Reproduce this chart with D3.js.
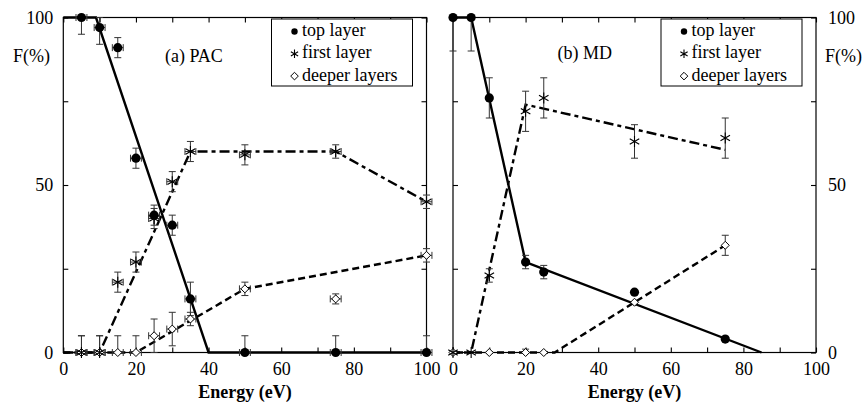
<!DOCTYPE html>
<html><head><meta charset="utf-8">
<script src="https://cdn.jsdelivr.net/npm/d3@7"></script>
</head><body style="margin:0">
<svg id="c" width="862" height="402"></svg>
<script>
// ---------- data ----------
const xTickValues = [0,10,20,30,40,50,60,70,80,90,100];
const xTickLabels = [0,20,40,60,80,100];
const yTickValues = [0,25,50,75,100];
const yTickLabels = [0,50,100];
const legendLabels = ["top layer","first layer","deeper layers"];
const panelTitles = ["(a) PAC","(b) MD"];
const xTitle = "Energy (eV)";
const yTitle = "F(%)";

// (a) PAC
const pacTopE   = [5,10,15,20,25,30,35,50,75,100];
const pacTopF   = [100,97,91,58,41,38,16,0,0,0];
const pacTopErr = [5,5,3,3,3,3,5,5,5,5];
const pacFirstE   = [5,10,15,20,25,30,35,50,75,100];
const pacFirstF   = [0,0,21,27,40,51,60,59,60,45];
const pacFirstErr = [5,5,3,3,3,3,3,3,2,2];
const pacDeepE   = [5,10,15,20,25,30,35,50,75,100];
const pacDeepF   = [0,0,0,0,5,7,10,19,16,29];
const pacDeepErr = [5,5,5,5,5,5,2,2,1.5,2];
const pacXErr = 1.5;
const pacTopFitE = [0,9,40,100],      pacTopFitF = [100,100,0,0];
const pacFirstFitE = [0,10,35,75,100], pacFirstFitF = [0,0,60,60,45];
const pacDeepFitE = [0,20,50,100],    pacDeepFitF = [0,0,19,29];

// (b) MD
const mdTopE   = [0,5,10,20,25,50,75];
const mdTopF   = [100,100,76,27,24,18,4];
const mdTopErr = [10,10,6,2,2,0,0];
const mdFirstE   = [0,5,10,20,25,50,75];
const mdFirstF   = [0,0,23,72,76,63,64];
const mdFirstErr = [0,0,2,6,6,5,6];
const mdDeepE   = [0,10,20,25,50,75];
const mdDeepF   = [0,0,0,0,15,32];
const mdDeepErr = [0,0,1,0,0,3];
const mdXErr = 0;
const mdTopFitE = [0,5,20,85],    mdTopFitF = [100,100,27,0];
const mdFirstFitE = [0,5,20,75],  mdFirstFitF = [0,0,74,60.5];
const mdDeepFitE = [0,28,75],     mdDeepFitF = [0,0,32];

// ---------- drawing ----------
const FONT = "Times New Roman";
const svg = d3.select("#c");
const yRange = [352.5, 17.5];

function asteriskPath(r){
  const c = r*Math.cos(Math.PI/6), s = r*Math.sin(Math.PI/6);
  return `M0,${-r}L0,${r}M${-c},${-s}L${c},${s}M${-c},${s}L${c},${-s}`;
}
function diamondPath(r){ return `M0,${-r}L${r},0L0,${r}L${-r},0Z`; }

function drawMarker(g, type, x, y, big){
  if(type==="top"){
    g.append("circle").attr("cx",x).attr("cy",y).attr("r",big?4.6:3.2).attr("fill","#000");
  } else if(type==="first"){
    g.append("path").attr("transform",`translate(${x},${y})`).attr("d",asteriskPath(big?5.5:4.2))
      .attr("fill","none").attr("stroke","#000").attr("stroke-width",1.1);
  } else {
    g.append("path").attr("transform",`translate(${x},${y})`).attr("d",diamondPath(big?4:3.8))
      .attr("fill","#fff").attr("stroke","#000").attr("stroke-width",1);
  }
}

function txt(x, y, s, size, opts={}){
  const t = svg.append("text").attr("x",x).attr("y",y)
    .attr("font-family",FONT).attr("font-size",size).attr("fill","#000").text(s);
  if(opts.anchor) t.attr("text-anchor",opts.anchor);
  if(opts.bold) t.attr("font-weight","bold");
  return t;
}

function drawPanel(cfg){
  const x = d3.scaleLinear().domain([0,100]).range(cfg.xRange);
  const y = d3.scaleLinear().domain([0,100]).range(yRange);
  const g = svg.append("g");
  const [x0,x1] = cfg.xRange;

  function axisG(tr, axis){
    const a = g.append("g").attr("transform",tr);
    a.call(axis);
    a.attr("font-family",FONT).attr("font-size",18);
    a.select(".domain").remove();
    a.selectAll("line").attr("stroke","#000").attr("stroke-width",1.1);
    a.selectAll("text").attr("fill","#000").attr("font-family",FONT);
  }
  axisG(`translate(0,${yRange[0]})`, d3.axisBottom(x).tickValues(xTickValues).tickSize(-5).tickPadding(10)
      .tickFormat(d=> xTickLabels.includes(d)? d : ""));
  axisG(`translate(0,${yRange[1]})`, d3.axisTop(x).tickValues(xTickValues).tickSize(-5).tickFormat(""));
  axisG(`translate(${x0},0)`, d3.axisLeft(y).tickValues(yTickValues).tickSize(-5).tickPadding(10)
      .tickFormat(d=> cfg.labelsLeft && yTickLabels.includes(d)? d : ""));
  axisG(`translate(${x1},0)`, d3.axisRight(y).tickValues(yTickValues).tickSize(-5).tickPadding(12)
      .tickFormat(d=> !cfg.labelsLeft && yTickLabels.includes(d)? d : ""));

  g.append("rect").attr("x",x0).attr("y",yRange[1]).attr("width",x1-x0).attr("height",yRange[0]-yRange[1])
    .attr("fill","none").attr("stroke","#000").attr("stroke-width",1.2);

  const line = d3.line().x(d=>x(d[0])).y(d=>y(d[1]));
  const fits = [
    {E:cfg.deepFitE, F:cfg.deepFitF, dash:"7,4"},
    {E:cfg.firstFitE, F:cfg.firstFitF, dash:"10,4,4,4"},
    {E:cfg.topFitE, F:cfg.topFitF, dash:null}
  ];
  fits.forEach(f=>{
    g.append("path").datum(d3.zip(f.E,f.F)).attr("d",line).attr("fill","none")
      .attr("stroke","#000").attr("stroke-width",2.4).attr("stroke-dasharray",f.dash);
  });

  const series = [
    {type:"deep", E:cfg.deepE, F:cfg.deepF, err:cfg.deepErr},
    {type:"first", E:cfg.firstE, F:cfg.firstF, err:cfg.firstErr},
    {type:"top", E:cfg.topE, F:cfg.topF, err:cfg.topErr}
  ];
  const eb = g.append("g").attr("stroke","#333").attr("stroke-width",1).attr("fill","none");
  series.forEach(s=>{
    s.E.forEach((e,i)=>{
      const f = s.F[i], er = s.err[i];
      const cx = x(e), cy = y(f);
      if(er>0){
        const lo = Math.max(0,f-er), hi = Math.min(100,f+er);
        eb.append("line").attr("x1",cx).attr("x2",cx).attr("y1",y(lo)).attr("y2",y(hi));
        if(hi>f) eb.append("line").attr("x1",cx-3.5).attr("x2",cx+3.5).attr("y1",y(hi)).attr("y2",y(hi));
        if(lo<f) eb.append("line").attr("x1",cx-3.5).attr("x2",cx+3.5).attr("y1",y(lo)).attr("y2",y(lo));
      }
      if(cfg.xErr>0){
        const l = x(e-cfg.xErr), r = x(e+cfg.xErr);
        eb.append("line").attr("x1",l).attr("x2",r).attr("y1",cy).attr("y2",cy);
        eb.append("line").attr("x1",l).attr("x2",l).attr("y1",cy-3.5).attr("y2",cy+3.5);
        eb.append("line").attr("x1",r).attr("x2",r).attr("y1",cy-3.5).attr("y2",cy+3.5);
      }
    });
  });
  const mk = g.append("g");
  series.forEach(s=> s.E.forEach((e,i)=> drawMarker(mk, s.type, x(e), y(s.F[i]), true)));

  const lx1 = x1-14, lx0 = lx1-141, ly0 = 19, ly1 = 86;
  g.append("rect").attr("x",lx0).attr("y",ly0).attr("width",lx1-lx0).attr("height",ly1-ly0)
    .attr("fill","#fff").attr("stroke","#000").attr("stroke-width",1);
  ["top","first","deep"].forEach((t,i)=>{
    const by = 36 + i*22.3;
    drawMarker(g, t, lx0+23, by-4.5, false);
    txt(lx0+30.5, by, legendLabels[i], 18);
  });

  txt(cfg.titlePos[0], cfg.titlePos[1], cfg.title, 18);
  txt((x0+x1)/2, 398, xTitle, 18, {anchor:"middle", bold:true});
  txt(cfg.yTitlePos[0], cfg.yTitlePos[1], yTitle, 18);
}

drawPanel({
  xRange:[63.3,426.5], labelsLeft:true, xErr:pacXErr,
  topE:pacTopE, topF:pacTopF, topErr:pacTopErr,
  firstE:pacFirstE, firstF:pacFirstF, firstErr:pacFirstErr,
  deepE:pacDeepE, deepF:pacDeepF, deepErr:pacDeepErr,
  topFitE:pacTopFitE, topFitF:pacTopFitF,
  firstFitE:pacFirstFitE, firstFitF:pacFirstFitF,
  deepFitE:pacDeepFitE, deepFitF:pacDeepFitF,
  title:panelTitles[0], titlePos:[165,62], yTitlePos:[13,61.5]
});
drawPanel({
  xRange:[453,816], labelsLeft:false, xErr:mdXErr,
  topE:mdTopE, topF:mdTopF, topErr:mdTopErr,
  firstE:mdFirstE, firstF:mdFirstF, firstErr:mdFirstErr,
  deepE:mdDeepE, deepF:mdDeepF, deepErr:mdDeepErr,
  topFitE:mdTopFitE, topFitF:mdTopFitF,
  firstFitE:mdFirstFitE, firstFitF:mdFirstFitF,
  deepFitE:mdDeepFitE, deepFitF:mdDeepFitF,
  title:panelTitles[1], titlePos:[557.5,58.5], yTitlePos:[825,61.5]
});
</script>
</body></html>
